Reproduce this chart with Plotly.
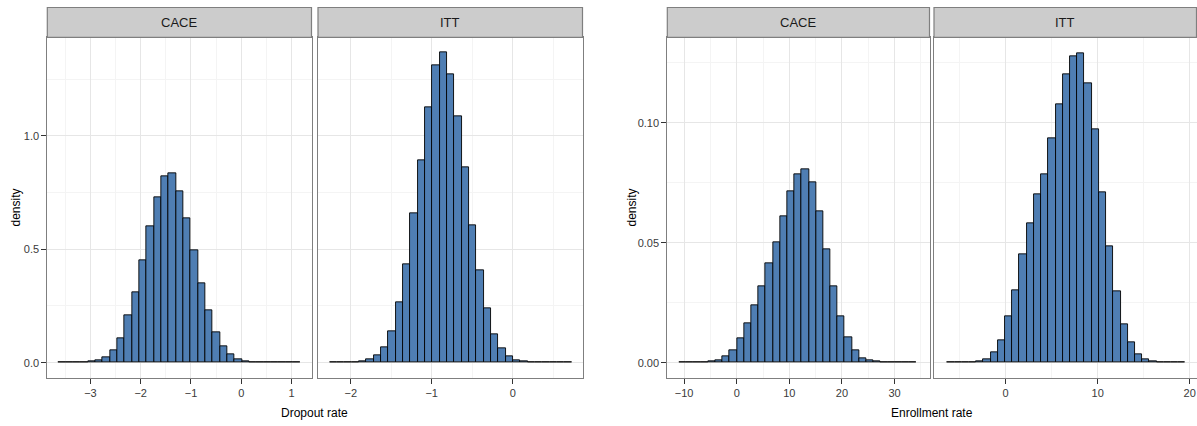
import plotly.graph_objects as go

# ---------------- data ----------------
panels = ["CACE", "ITT", "CACE", "ITT"]
xlabels = ["Dropout rate", "Enrollment rate"]

# histogram bins: left edge of first bin and bin width (33 bins each)
dropout_cace_start, dropout_cace_width = -3.631, 0.1458
dropout_itt_start, dropout_itt_width = -2.260, 0.0905
enroll_cace_start, enroll_cace_width = -10.90, 1.367
enroll_itt_start, enroll_itt_width = -6.345, 0.7844

dropout_cace_density = [0.0003, 0.0005, 0.001, 0.002, 0.006, 0.012, 0.024, 0.054, 0.109, 0.209,
                        0.310, 0.451, 0.601, 0.729, 0.824, 0.834, 0.757, 0.637, 0.494, 0.350,
                        0.229, 0.132, 0.072, 0.037, 0.016, 0.007, 0.003, 0.002, 0.001, 0.001,
                        0.0005, 0.0003, 0.0003]
dropout_itt_density = [0.0004, 0.0007, 0.001, 0.002, 0.004, 0.015, 0.032, 0.068, 0.138, 0.266,
                       0.434, 0.657, 0.893, 1.125, 1.310, 1.368, 1.272, 1.087, 0.863, 0.607,
                       0.409, 0.238, 0.126, 0.063, 0.029, 0.010, 0.006, 0.003, 0.002, 0.001,
                       0.001, 0.0005, 0.0003]
enroll_cace_density = [0.00005, 0.0001, 0.0002, 0.0003, 0.0005, 0.0008, 0.0025, 0.0051, 0.0103, 0.0165,
                       0.0239, 0.0318, 0.0413, 0.0500, 0.0610, 0.0714, 0.0786, 0.0806, 0.0753, 0.0629,
                       0.0474, 0.0318, 0.0192, 0.0106, 0.0050, 0.0018, 0.0008, 0.0004, 0.0002, 0.0001,
                       0.0001, 0.00005, 0.00005]
enroll_itt_density = [0.00005, 0.0001, 0.0002, 0.0003, 0.0006, 0.0014, 0.0043, 0.0094, 0.0194, 0.0303,
                      0.0450, 0.0581, 0.0703, 0.0786, 0.0936, 0.1076, 0.1200, 0.1278, 0.1289, 0.1163,
                      0.0972, 0.0708, 0.0483, 0.0297, 0.0161, 0.0085, 0.0036, 0.0014, 0.0006, 0.0003,
                      0.0002, 0.0001, 0.00005]

dropout_cace_ticks = [-3, -2, -1, 0, 1]
dropout_itt_ticks = [-2, -1, 0]
enroll_cace_ticks = [-10, 0, 10, 20, 30]
enroll_itt_ticks = [0, 10, 20]
dropout_y_ticks = [0.0, 0.5, 1.0]
enroll_y_ticks = [0.00, 0.05, 0.10]

# ---------------- figure ----------------
W, H = 1197, 426
FONT = "Liberation Sans, Arial, sans-serif"
FILL = "#4F7EB3"

series = [
    (dropout_cace_start, dropout_cace_width, dropout_cace_density),
    (dropout_itt_start, dropout_itt_width, dropout_itt_density),
    (enroll_cace_start, enroll_cace_width, enroll_cace_density),
    (enroll_itt_start, enroll_itt_width, enroll_itt_density),
]

# panel pixel boxes
px_x = [(47.3, 311.5), (318.0, 582.5), (667.3, 929.5), (934.0, 1196.5)]
px_top, px_bot = 37.3, 377.7
strip_top = 7.5

x_ranges = [(-3.857, 1.396), (-2.404, 0.862), (-13.19, 36.64), (-7.79, 20.74)]
x_ticks = [dropout_cace_ticks, dropout_itt_ticks, enroll_cace_ticks, enroll_itt_ticks]
x_minor = [0.5, 0.5, 5, 5]
y_ranges = [(-0.0663, 1.435), (-0.0663, 1.435), (-0.00626, 0.1356), (-0.00626, 0.1356)]
y_ticks = [dropout_y_ticks, None, enroll_y_ticks, None]
y_fmt = [".1f", ".1f", ".2f", ".2f"]
y_minor = [0.25, 0.25, 0.025, 0.025]

fig = go.Figure()
layout = dict(width=W, height=H, margin=dict(l=0, r=0, t=0, b=0),
              paper_bgcolor="white", plot_bgcolor="white", showlegend=False,
              font=dict(family=FONT, size=11, color="#4d4d4d"), bargap=0)
shapes, annotations = [], []

for i, (start, width, dens) in enumerate(series):
    n = i + 1
    xs = [start + (k + 0.5) * width for k in range(len(dens))]
    xa = "x" if n == 1 else f"x{n}"
    ya = "y" if n == 1 else f"y{n}"
    fig.add_trace(go.Bar(x=xs, y=dens, width=width, xaxis=xa, yaxis=ya,
                         marker=dict(color=FILL, line=dict(color="black", width=0.9)),
                         hoverinfo="x+y"))
    x0, x1 = px_x[i]
    xdom = [x0 / W, x1 / W]
    ydom = [(H - px_bot) / H, (H - px_top) / H]
    layout[f"xaxis{'' if n == 1 else n}"] = dict(
        domain=xdom, anchor=ya, range=list(x_ranges[i]),
        tickmode="array", tickvals=x_ticks[i], ticktext=[str(t).replace("-", "\u2212") for t in x_ticks[i]],
        ticks="outside", ticklen=5, tickcolor="#333333", tickwidth=1,
        showline=True, linecolor="#7f7f7f", linewidth=1, mirror=True,
        showgrid=True, gridcolor="#e6e6e6", gridwidth=1, zeroline=False,
        minor=dict(dtick=x_minor[i], tick0=0, showgrid=True, gridcolor="#f4f4f4", ticks=""),
        tickfont=dict(size=11, color="#3a3a3a"), fixedrange=True)
    yaxis = dict(
        domain=ydom, anchor=xa, range=list(y_ranges[i]),
        showline=True, linecolor="#7f7f7f", linewidth=1, mirror=True,
        showgrid=True, gridcolor="#e6e6e6", gridwidth=1, zeroline=False,
        minor=dict(dtick=y_minor[i], tick0=0, showgrid=True, gridcolor="#f4f4f4", ticks=""),
        fixedrange=True)
    if y_ticks[i] is not None:
        yaxis.update(tickmode="array", tickvals=y_ticks[i],
                     ticktext=[format(v, y_fmt[i]) for v in y_ticks[i]],
                     ticks="outside", ticklen=5, tickcolor="#333333", tickwidth=1,
                     tickfont=dict(size=11, color="#3a3a3a"))
    else:
        yaxis.update(tickmode="array", tickvals=y_ticks[i - 1], showticklabels=False, ticks="")
    layout[f"yaxis{'' if n == 1 else n}"] = yaxis

    # strip
    shapes.append(dict(type="rect", xref="paper", yref="paper",
                       x0=xdom[0], x1=xdom[1], y0=(H - px_top) / H, y1=(H - strip_top) / H,
                       fillcolor="#cccccc", line=dict(color="#7f7f7f", width=1.2), layer="above"))
    annotations.append(dict(text=panels[i], xref="paper", yref="paper",
                            x=(xdom[0] + xdom[1]) / 2, y=(H - (px_top + strip_top) / 2) / H,
                            showarrow=False, xanchor="center", yanchor="middle",
                            font=dict(family=FONT, size=13, color="#1a1a1a")))

# axis titles
annotations.append(dict(text=xlabels[0], xref="paper", yref="paper", x=(47.3 + 582.5) / 2 / W,
                        y=(H - 413) / H, showarrow=False, xanchor="center", yanchor="middle",
                        font=dict(family=FONT, size=12, color="black")))
annotations.append(dict(text=xlabels[1], xref="paper", yref="paper", x=(667.3 + 1196.5) / 2 / W,
                        y=(H - 413) / H, showarrow=False, xanchor="center", yanchor="middle",
                        font=dict(family=FONT, size=12, color="black")))
for xp in (15, 631):
    annotations.append(dict(text="density", xref="paper", yref="paper", x=xp / W,
                            y=(H - (px_top + px_bot) / 2) / H, showarrow=False, textangle=-90,
                            xanchor="center", yanchor="middle",
                            font=dict(family=FONT, size=12, color="black")))

layout["shapes"] = shapes
layout["annotations"] = annotations
fig.update_layout(**layout)
fig.write_html("out.html", config={"displayModeBar": False},
               post_script="document.body.style.margin='0';document.body.style.overflow='hidden';")
